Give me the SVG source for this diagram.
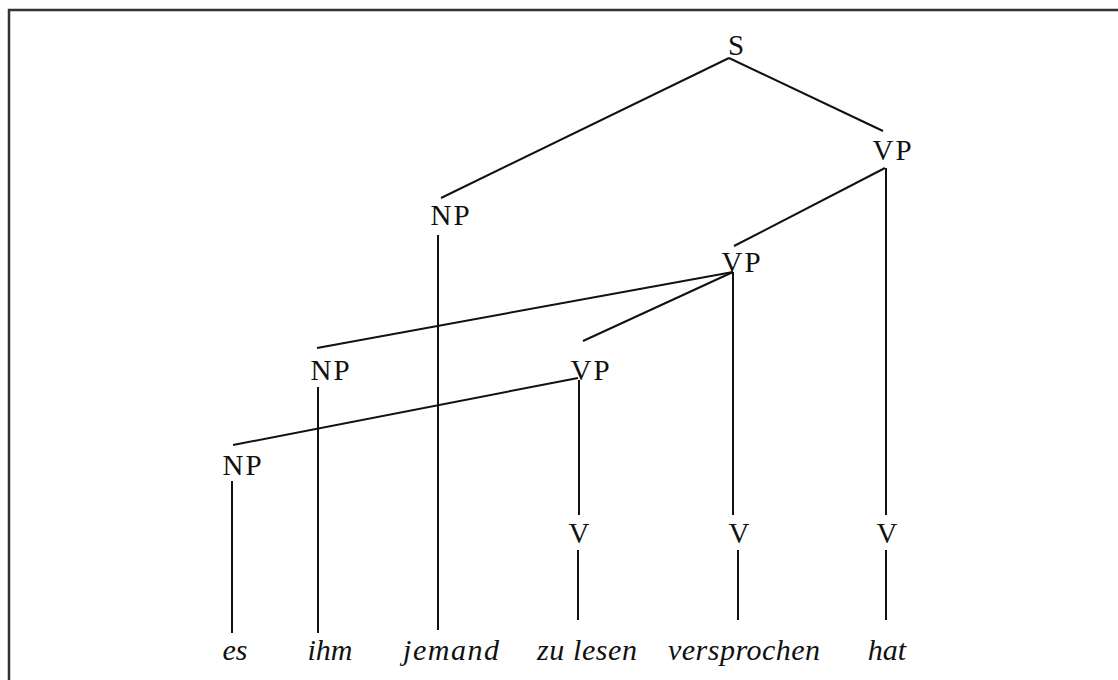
<svg xmlns="http://www.w3.org/2000/svg" width="1118" height="680" viewBox="0 0 1118 680">
<style>
.cat{font-family:"Liberation Serif","DejaVu Serif",serif;font-size:29px;fill:#111;text-anchor:middle;letter-spacing:2px}
.word{font-family:"Liberation Serif","DejaVu Serif",serif;font-size:30px;font-style:italic;fill:#111;text-anchor:middle}
.edge{stroke:#111;stroke-width:2;fill:none}
.frame{stroke:#333;stroke-width:2.5;fill:none}
</style>
<rect width="1118" height="680" fill="#fff"/>
<path class="frame" d="M9,680 V10 H1118"/>
<g id="connectors">
<line class="edge" x1="729" y1="58" x2="441" y2="198"/>
<line class="edge" x1="729" y1="58" x2="883" y2="131"/>
<line class="edge" x1="885" y1="168" x2="734" y2="246"/>
<line class="edge" x1="886" y1="168" x2="886" y2="515"/>
<line class="edge" x1="438" y1="235" x2="438" y2="630"/>
<line class="edge" x1="733" y1="272" x2="317" y2="348"/>
<line class="edge" x1="733" y1="272" x2="583" y2="341"/>
<line class="edge" x1="733" y1="272" x2="733" y2="515"/>
<line class="edge" x1="318" y1="387" x2="318" y2="633"/>
<line class="edge" x1="578" y1="378" x2="233" y2="445"/>
<line class="edge" x1="579" y1="380" x2="579" y2="515"/>
<line class="edge" x1="232" y1="481" x2="232" y2="633"/>
<line class="edge" x1="578" y1="550" x2="578" y2="620"/>
<line class="edge" x1="738" y1="550" x2="738" y2="620"/>
<line class="edge" x1="886" y1="550" x2="886" y2="620"/>
</g>
<g id="S"><text class="cat" x="737" y="55">S</text></g>
<g id="VP1"><text class="cat" x="893" y="160">VP</text></g>
<g id="NP1"><text class="cat" x="451" y="225">NP</text></g>
<g id="VP2"><text class="cat" x="742" y="272">VP</text></g>
<g id="NP2"><text class="cat" x="331" y="380">NP</text></g>
<g id="VP3"><text class="cat" x="591" y="380">VP</text></g>
<g id="NP3"><text class="cat" x="243" y="475">NP</text></g>
<g id="V1"><text class="cat" x="580" y="543">V</text></g>
<g id="V2"><text class="cat" x="740" y="543">V</text></g>
<g id="V3"><text class="cat" x="888" y="543">V</text></g>
<g id="w-es"><text class="word" x="235" y="660">es</text></g>
<g id="w-ihm"><text class="word" x="330" y="660">ihm</text></g>
<g id="w-jemand"><text class="word" x="451" y="660" textLength="96" lengthAdjust="spacing">jemand</text></g>
<g id="w-zulesen"><text class="word" x="587" y="660" textLength="100" lengthAdjust="spacing">zu lesen</text></g>
<g id="w-versprochen"><text class="word" x="744" y="660" textLength="152" lengthAdjust="spacing">versprochen</text></g>
<g id="w-hat"><text class="word" x="887" y="660">hat</text></g>
</svg>
